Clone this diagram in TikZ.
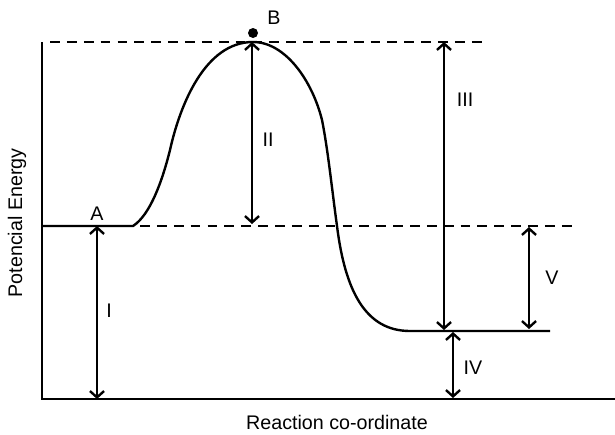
\documentclass[tikz,border=0pt]{standalone}
\usepackage{fontspec}
\setmainfont{Liberation Sans}
\usetikzlibrary{arrows.meta}
\tikzset{
  gap/.style={<->, >={Straight Barb[length=4.5pt,width=10pt]}, line width=1.7pt},
  level/.style={dashed, dash pattern=on 7pt off 5pt, line width=1.7pt},
  lbl/.style={font=\fontsize{14}{16}\selectfont, inner sep=0pt}
}
\begin{document}
\begin{tikzpicture}[x=0.025cm, y=-0.025cm]
            \useasboundingbox (0,0) rectangle (615,434);

            % axes
            \coordinate (O) at (42,399);
            \coordinate (ytop) at (42,42);
            \coordinate (xend) at (615,399);
            \draw[line width=1.7pt] (ytop) -- (O) -- (xend);

            % energy levels
            \coordinate (peakL) at (50,42);
            \coordinate (peakR) at (486,42);
            \coordinate (reacR) at (575,226);
            \coordinate (reacS) at (140,226);
            \draw[level] (peakL) -- (peakR);
            \draw[level] (reacS) -- (reacR);

            % reaction path
            \draw[line width=1.7pt] (42,226) -- (133,226)
                .. controls (150,215) and (162,182) .. (170,150)
                .. controls (180,105) and (205,42) .. (253,42)
                .. controls (285,42) and (312,80) .. (322,120)
                .. controls (328,150) and (332,190) .. (337,226)
                .. controls (345,290) and (365,331) .. (410,331)
                -- (550,331);

            % dimension arrows
            \coordinate (Itop) at (97,226);
            \coordinate (Ibot) at (97,399);
            \coordinate (IItop) at (252,42);
            \coordinate (IIbot) at (252,224);
            \coordinate (IIItop) at (444,42);
            \coordinate (IIIbot) at (444,330);
            \coordinate (IVtop) at (453,332);
            \coordinate (IVbot) at (453,398);
            \coordinate (Vtop) at (529,227);
            \coordinate (Vbot) at (529,329);
            \draw[gap] (Itop) -- (Ibot);
            \draw[gap] (IItop) -- (IIbot);
            \draw[gap] (IIItop) -- (IIIbot);
            \draw[gap] (IVtop) -- (IVbot);
            \draw[gap] (Vtop) -- (Vbot);

            \node[lbl] (labI) at (109,311) {I};
            \node[lbl] (labII) at (268,140) {II};
            \node[lbl] (labIII) at (465,100) {III};
            \node[lbl] (labIV) at (473,368) {IV};
            \node[lbl] (labV) at (552,278) {V};

            % states
            \fill (253,33) circle (5);
            \node[lbl] (labB) at (274,18) {B};
            \node[lbl] (labA) at (97,214) {A};

            % axis titles
            \node[lbl, rotate=90] (ylab) at (17,223) {Potencial Energy};
            \node[lbl] (xlab) at (337,422) {Reaction co-ordinate};
        \end{tikzpicture}
\end{document}
